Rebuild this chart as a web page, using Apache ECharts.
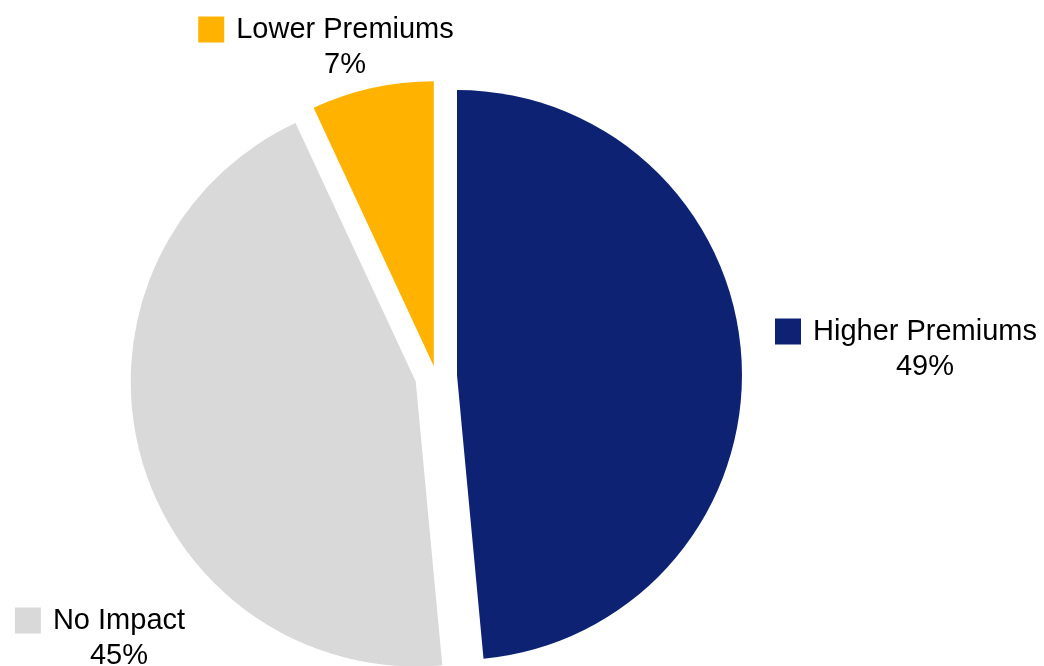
<!DOCTYPE html>
<html>
<head>
<meta charset="utf-8">
<script src="https://cdn.jsdelivr.net/npm/echarts@6/dist/echarts.min.js"></script>
<style>
  html, body { margin: 0; padding: 0; background: #fff; }
  #chart { width: 1044px; height: 666px; }
</style>
</head>
<body>
<div id="chart"></div>
<script>
// ── Data ──────────────────────────────────────────────────────────────
const categories = ['Higher Premiums', 'No Impact', 'Lower Premiums'];
const values = [49, 45, 7];   // percent, as labelled

// ── Style ─────────────────────────────────────────────────────────────
const COLORS = ['#0D2273', '#D9D9D9', '#FFB300'];
const EXPLODE = [21, 21, 10];           // slice pull-out, px
const FONT = '"Liberation Sans", Arial, sans-serif';
// label block anchors (centre x, top y)
const LABEL_POS = [[906, 314], [100, 603], [326, 12]];

const chart = echarts.init(document.getElementById('chart'), null, { renderer: 'canvas' });

const rich = {
  t: { fontSize: 29, fontFamily: FONT, color: '#000', lineHeight: 35, padding: [0, 0, 0, 12] },
  p: { fontSize: 29, fontFamily: FONT, color: '#000', lineHeight: 35, align: 'center', padding: [0, 0, 0, 38] },
};
COLORS.forEach((c, i) => {
  rich['sq' + i] = { width: 26, height: 26, backgroundColor: c, lineHeight: 35 };
});

// one pie series per explode distance, same layout, other slices hidden
function buildSeries(offset) {
  return {
    type: 'pie',
    center: [436, 376],
    radius: 285,
    startAngle: 90,
    clockwise: true,
    selectedMode: 'multiple',
    selectedOffset: offset,
    avoidLabelOverlap: false,
    animation: false,
    silent: true,
    itemStyle: { borderWidth: 0 },
    select: { itemStyle: { borderWidth: 0 } },
    label: { show: false },
    labelLine: { show: false },
    data: categories.map((name, i) => {
      const mine = EXPLODE[i] === offset;
      return {
        name,
        value: values[i],
        selected: mine,
        itemStyle: { color: COLORS[i], opacity: mine ? 1 : 0 },
        select: { itemStyle: { color: COLORS[i], opacity: mine ? 1 : 0 } },
      };
    }),
  };
}

const offsets = [...new Set(EXPLODE)];

// data labels with legend key, Excel style
const labels = categories.map((name, i) => ({
  type: 'text',
  x: LABEL_POS[i][0],
  y: LABEL_POS[i][1],
  silent: true,
  style: {
    text: `{sq${i}|}{t|${name}}\n{p|${values[i]}%}`,
    rich,
    align: 'center',
    verticalAlign: 'top',
    fontFamily: FONT,
  },
}));

chart.setOption({
  backgroundColor: '#fff',
  animation: false,
  series: offsets.map(buildSeries),
  graphic: labels,
});
</script>
</body>
</html>
